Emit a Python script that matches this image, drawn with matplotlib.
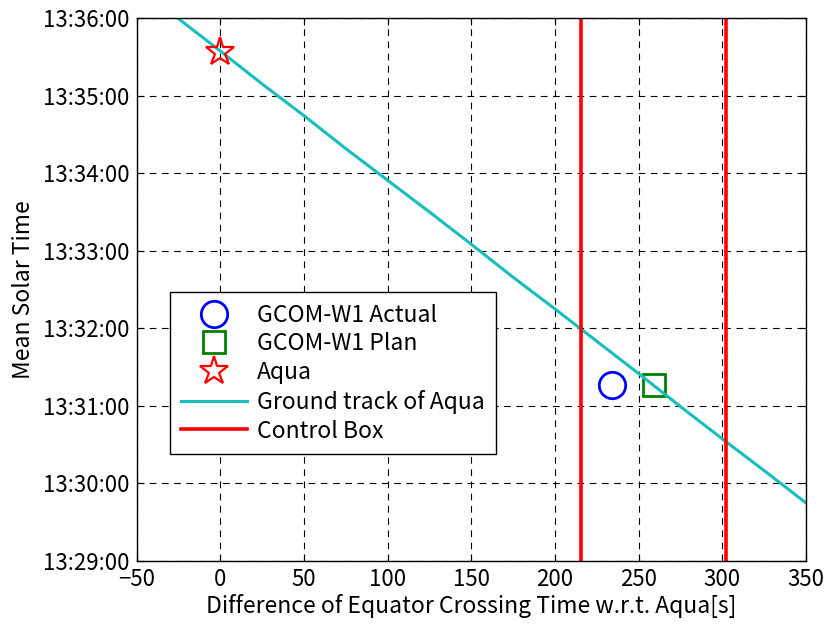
import matplotlib
matplotlib.use("Agg")
import matplotlib.pyplot as plt
from matplotlib.ticker import FuncFormatter, MultipleLocator

plt.rcParams['font.family'] = ['Noto Sans CJK JP', 'DejaVu Sans']

# y values are seconds after 13:29:00
track_x = [-30, 0, 25, 50, 75, 100, 125, 150, 175, 200, 225, 250, 275, 300, 325, 350]
track_y = [424.5, 394.5, 369, 344.5, 319, 294.5, 270, 245, 219.5, 195, 170, 145, 119.5, 94.5, 70, 45]

box_x = [215.5, 302]

aqua_x, aqua_y = [0], [394]
actual_x, actual_y = [234], [136]
plan_x, plan_y = [259], [136]

def hms(v, pos):
    t = int(round(13 * 3600 + 29 * 60 + v))
    return "%d:%02d:%02d" % (t // 3600, (t % 3600) // 60, t % 60)

fig = plt.figure(figsize=(8.29, 6.26), dpi=100)
ax = fig.add_axes([0.165, 0.104, 0.807, 0.867])

ax.plot(actual_x, actual_y, 'o', ms=19, mfc='none', mec='blue', mew=2, label='GCOM-W1 Actual')
ax.plot(plan_x, plan_y, 's', ms=16, mfc='none', mec='green', mew=2, label='GCOM-W1 Plan')
ax.plot(aqua_x, aqua_y, '*', ms=21, mfc='none', mec='red', mew=1.6, label='Aqua', zorder=5)
ax.plot(track_x, track_y, color='#17BEBE', lw=2.2, label='Ground track of Aqua')
for i, bx in enumerate(box_x):
    ax.axvline(bx, color='red', lw=2.6, label='Control Box' if i == 0 else None)

ax.set_xlim(-50, 350)
ax.set_ylim(0, 420)
ax.xaxis.set_major_locator(MultipleLocator(50))
ax.yaxis.set_major_locator(MultipleLocator(60))
ax.yaxis.set_major_formatter(FuncFormatter(hms))
ax.grid(True, color='black', ls=(0, (6, 5)), lw=0.8)
ax.tick_params(direction='in', top=True, right=True, labelsize=16, length=5, pad=5)
for s in ax.spines.values():
    s.set_linewidth(1.0)

ax.set_xlabel('Difference of Equator Crossing Time w.r.t. Aqua[s]', fontsize=16.5, labelpad=2)
ax.set_ylabel('Mean Solar Time', fontsize=16.5, labelpad=6)

leg = ax.legend(loc='lower left', bbox_to_anchor=(0.049, 0.197), fontsize=16.5,
                fancybox=False, edgecolor='black', framealpha=1, handlelength=2.9,
                borderaxespad=0, labelspacing=0.25, borderpad=0.5, handletextpad=0.4)
leg.get_frame().set_linewidth(1.0)

fig.savefig('out.png', dpi=100)
